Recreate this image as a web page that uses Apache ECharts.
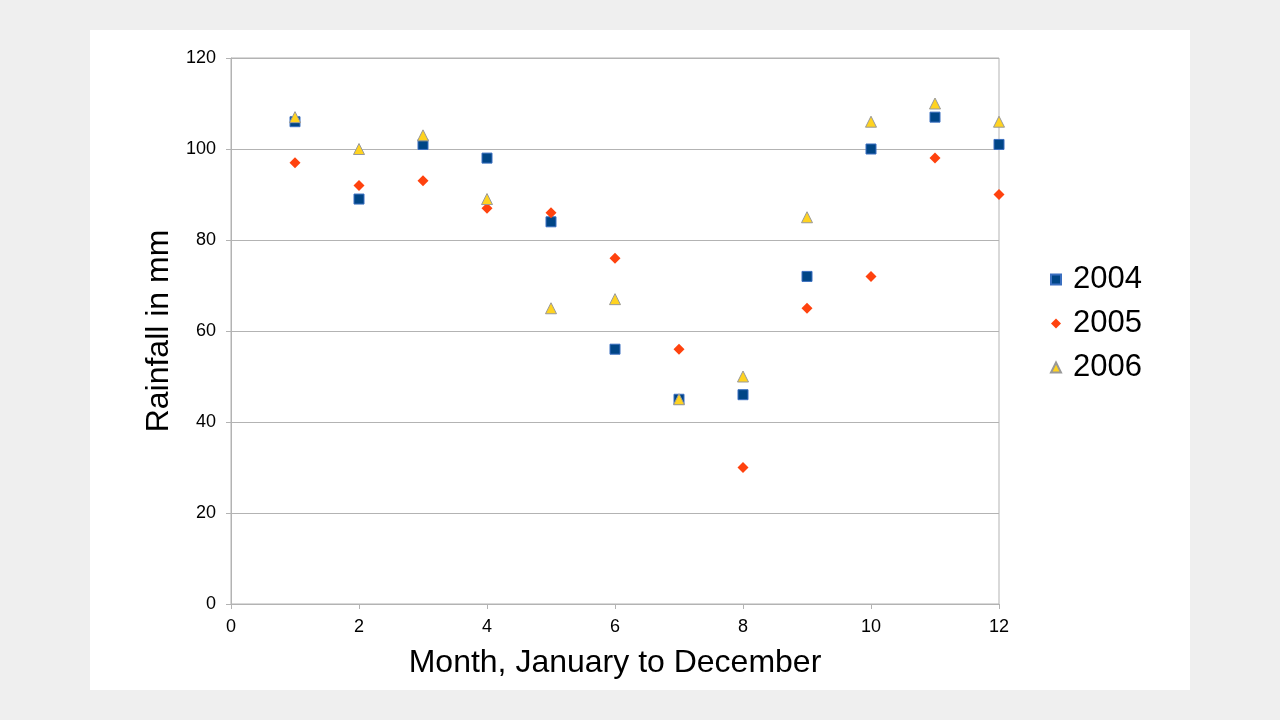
<!DOCTYPE html>
<html>
<head>
<meta charset="utf-8">
<script src="https://cdn.jsdelivr.net/npm/echarts@6/dist/echarts.min.js"></script>
<style>
html,body{margin:0;padding:0;background:#efefef;}
#c{width:1280px;height:720px;}
</style>
</head>
<body>
<div id="c"></div>
<script>
var months = [1,2,3,4,5,6,7,8,9,10,11,12];
var y2004 = [106,89,101,98,84,56,45,46,72,100,107,101];
var y2005 = [97,92,93,87,86,76,56,30,65,72,98,90];
var y2006 = [107,100,103,89,65,67,45,50,85,106,110,106];
var seriesNames = ['2004','2005','2006'];

function pairs(v){ return months.map(function(m,i){ return [m, v[i]]; }); }

var FONT = '"Liberation Sans", Arial, sans-serif';
var chart = echarts.init(document.getElementById('c'));
chart.setOption({
  backgroundColor: 'transparent',
  animation: false,
  graphic: [{
    type: 'rect', z: -10, silent: true,
    shape: {x: 90, y: 30, width: 1100, height: 660},
    style: {fill: '#ffffff'}
  }],
  grid: {left: 231, right: 281, top: 58, bottom: 116, show: true, borderColor: '#b3b3b3', borderWidth: 1, backgroundColor: 'transparent'},
  legend: {
    orient: 'vertical', left: 1045, top: 259, itemGap: 13, itemWidth: 10, itemHeight: 10,
    textStyle: {fontFamily: FONT, fontSize: 31, color: '#000', padding: [0,0,0,7]},
    data: [
      {name: '2004', icon: 'rect'},
      {name: '2005', icon: 'diamond'},
      {name: '2006', icon: 'triangle'}
    ]
  },
  xAxis: {
    type: 'value', min: 0, max: 12, interval: 2,
    name: 'Month, January to December', nameLocation: 'middle', nameGap: 43,
    nameTextStyle: {fontFamily: FONT, fontSize: 32, color: '#000'},
    axisLine: {show: true, lineStyle: {color: '#b3b3b3'}},
    axisTick: {show: true, length: 5, lineStyle: {color: '#b3b3b3'}},
    axisLabel: {fontFamily: FONT, fontSize: 18, color: '#000', margin: 14},
    splitLine: {show: false}
  },
  yAxis: {
    type: 'value', min: 0, max: 120, interval: 20,
    name: 'Rainfall in mm', nameLocation: 'middle', nameGap: 42,
    nameTextStyle: {fontFamily: FONT, fontSize: 32, color: '#000'},
    axisLine: {show: true, lineStyle: {color: '#b3b3b3'}},
    axisTick: {show: true, length: 5, lineStyle: {color: '#b3b3b3'}},
    axisLabel: {fontFamily: FONT, fontSize: 18, color: '#000', margin: 15},
    splitLine: {show: true, lineStyle: {color: '#b3b3b3'}}
  },
  series: [
    {name: seriesNames[0], type: 'scatter', symbol: 'rect', symbolSize: 10, data: pairs(y2004),
     itemStyle: {color: '#004586', borderColor: '#3a6fc0', borderWidth: 1, opacity: 1}},
    {name: seriesNames[1], type: 'scatter', symbol: 'diamond', symbolSize: 11, data: pairs(y2005),
     itemStyle: {color: '#ff420e', opacity: 1}},
    {name: seriesNames[2], type: 'scatter', symbol: 'triangle', symbolSize: 11, data: pairs(y2006),
     itemStyle: {color: '#ffd320', borderColor: '#999999', borderWidth: 1, opacity: 1}}
  ]
});
</script>
</body>
</html>
